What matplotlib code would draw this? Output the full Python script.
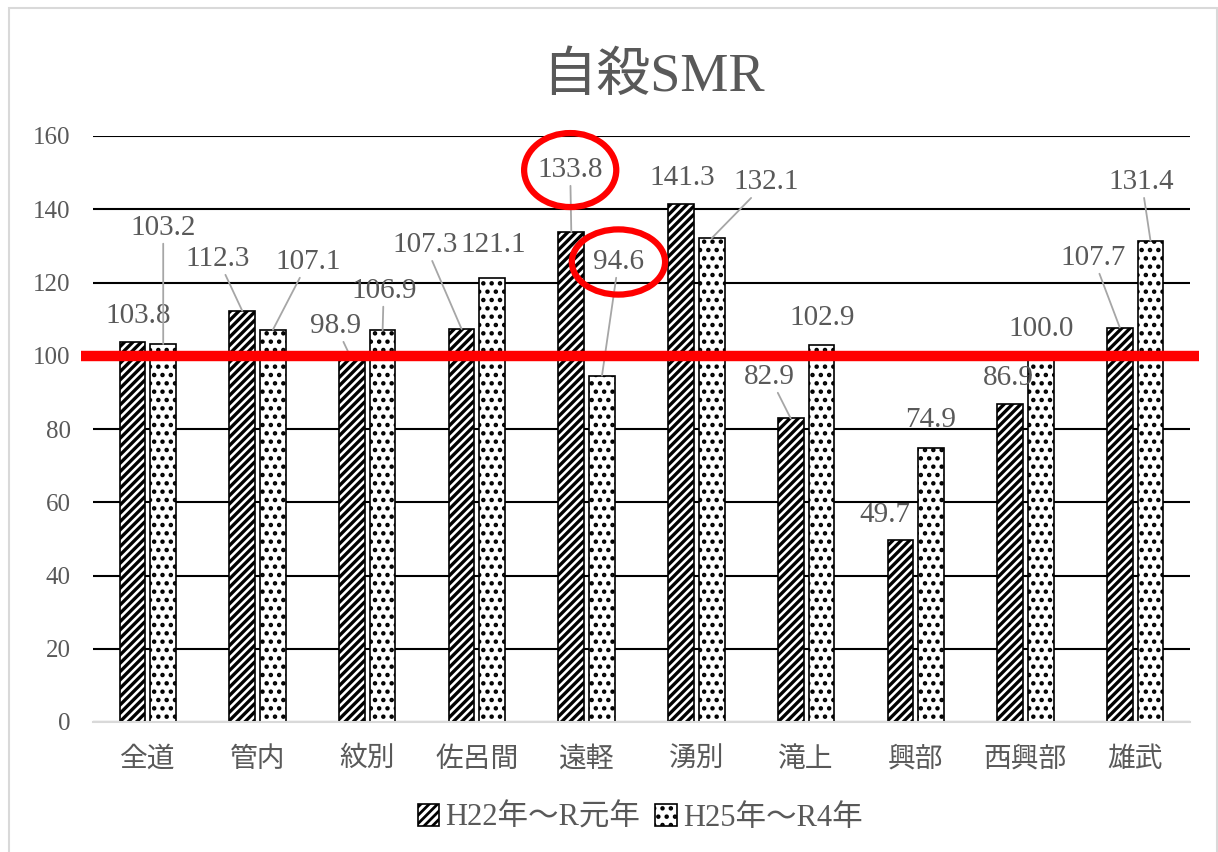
import numpy as np
import matplotlib
matplotlib.use('Agg')
import matplotlib.pyplot as plt
from matplotlib.patches import Ellipse, Rectangle

plt.rcParams['font.family'] = ['Liberation Serif', 'Noto Sans CJK JP']
plt.rcParams['hatch.color'] = 'black'

# data
towns = ['全道', '管内', '紋別', '佐呂間', '遠軽', '湧別', '滝上', '興部', '西興部', '雄武']
smr_h22 = [103.8, 112.3, 98.9, 107.3, 133.8, 141.3, 82.9, 49.7, 86.9, 107.7]
smr_h25 = [103.2, 107.1, 106.9, 121.1, 94.6, 132.1, 102.9, 74.9, 100.0, 131.4]
series_names = ['H22年～R元年', 'H25年～R4年']

# where the data labels sit (x, y in data units) and whether a leader line is drawn
lab1 = [(-0.09, 110.9), (0.64, 126.4), (1.715, 108.1), (2.53, 130.2), (3.85, 150.7),
        (4.87, 148.4), (5.67, 94.2), (6.72, 56.5), (7.84, 93.9), (8.62, 126.7)]
lead1 = [False, True, True, True, True, False, True, False, False, True]
lab2 = [(0.14, 134.9), (1.46, 125.6), (2.15, 117.7), (3.15, 130.2), (4.29, 125.6),
        (5.64, 147.4), (6.15, 110.3), (7.14, 82.5), (8.14, 107.3), (9.06, 147.4)]
lead2 = [True, True, True, False, True, True, False, False, False, True]

grey = '#595959'
fig = plt.figure(figsize=(12.18, 8.52), dpi=100)
ax = fig.add_axes([93 / 1218, 1 - 722 / 852, (1190 - 93) / 1218, (722 - 136) / 852])

x = np.arange(len(towns))
w = 0.235
off = 0.14
plt.rcParams['hatch.linewidth'] = 2.4
b1 = ax.bar(x - off, smr_h22, w, color='white', edgecolor='black', lw=1.2,
            hatch='////', label=series_names[0], zorder=3)
plt.rcParams['hatch.linewidth'] = 2.0
b2 = ax.bar(x + off, smr_h25, w, color='white', edgecolor='black', lw=1.2,
            hatch='..', label=series_names[1], zorder=3)

for vals, labs, leads, sgn in [(smr_h22, lab1, lead1, -1), (smr_h25, lab2, lead2, 1)]:
    for i, v in enumerate(vals):
        ap = dict(arrowstyle='-', color='#a6a6a6', lw=1.3, shrinkA=0, shrinkB=0) if leads[i] else None
        ax.annotate(f'{v:.1f}', xy=(i + sgn * off, v), xytext=labs[i],
                    ha='center', va='center', fontsize=21, color=grey,
                    arrowprops=ap, zorder=5, annotation_clip=False)

# reference line at 100
ax.plot([-0.61, 9.58], [100, 100], color='#ff0000', lw=7.5, zorder=6, clip_on=False,
        solid_capstyle='butt')

# red circles around the 遠軽 labels
for (cx, cy), ew, eh in [(lab1[4], 0.84, 20.2), (lab2[4], 0.85, 17.8)]:
    ax.add_patch(Ellipse((cx, cy), ew, eh, fill=False, edgecolor='#ff0000', lw=4.5,
                         zorder=7, clip_on=False))

ax.set_xlim(-0.5, 9.5)
ax.set_ylim(0, 160)
ax.set_yticks(np.arange(0, 161, 20))
ax.set_xticks(x)
ax.set_xticklabels(towns)
ax.yaxis.grid(True, color='black', lw=1.5)
ax.set_axisbelow(True)
for s in ['left', 'right', 'top']:
    ax.spines[s].set_visible(False)
ax.spines['bottom'].set_color('#d9d9d9')
ax.spines['bottom'].set_linewidth(1.5)
ax.spines['bottom'].set_zorder(4)
ax.tick_params(length=0)
ax.tick_params(axis='y', labelsize=18, labelcolor=grey, pad=16)
ax.tick_params(axis='x', labelsize=20, labelcolor=grey, pad=18)

fig.text(653 / 1218, 1 - 78 / 852, '自殺SMR', ha='center', va='center',
         fontsize=39, color=grey)

leg = fig.legend(handles=[b1, b2], loc='center', bbox_to_anchor=(640 / 1218, 1 - 818 / 852),
                 ncol=2, frameon=False, fontsize=22, handlelength=0.7, handleheight=0.7,
                 handletextpad=0.2, columnspacing=0.5)
for t in leg.get_texts():
    t.set_color(grey)

fig.add_artist(Rectangle((9 / 1218, -0.02), (1217 - 9) / 1218, 1.02 - 8 / 852,
                         transform=fig.transFigure, fill=False, edgecolor='#d9d9d9', lw=1.5))

fig.savefig('out.png', dpi=100)
